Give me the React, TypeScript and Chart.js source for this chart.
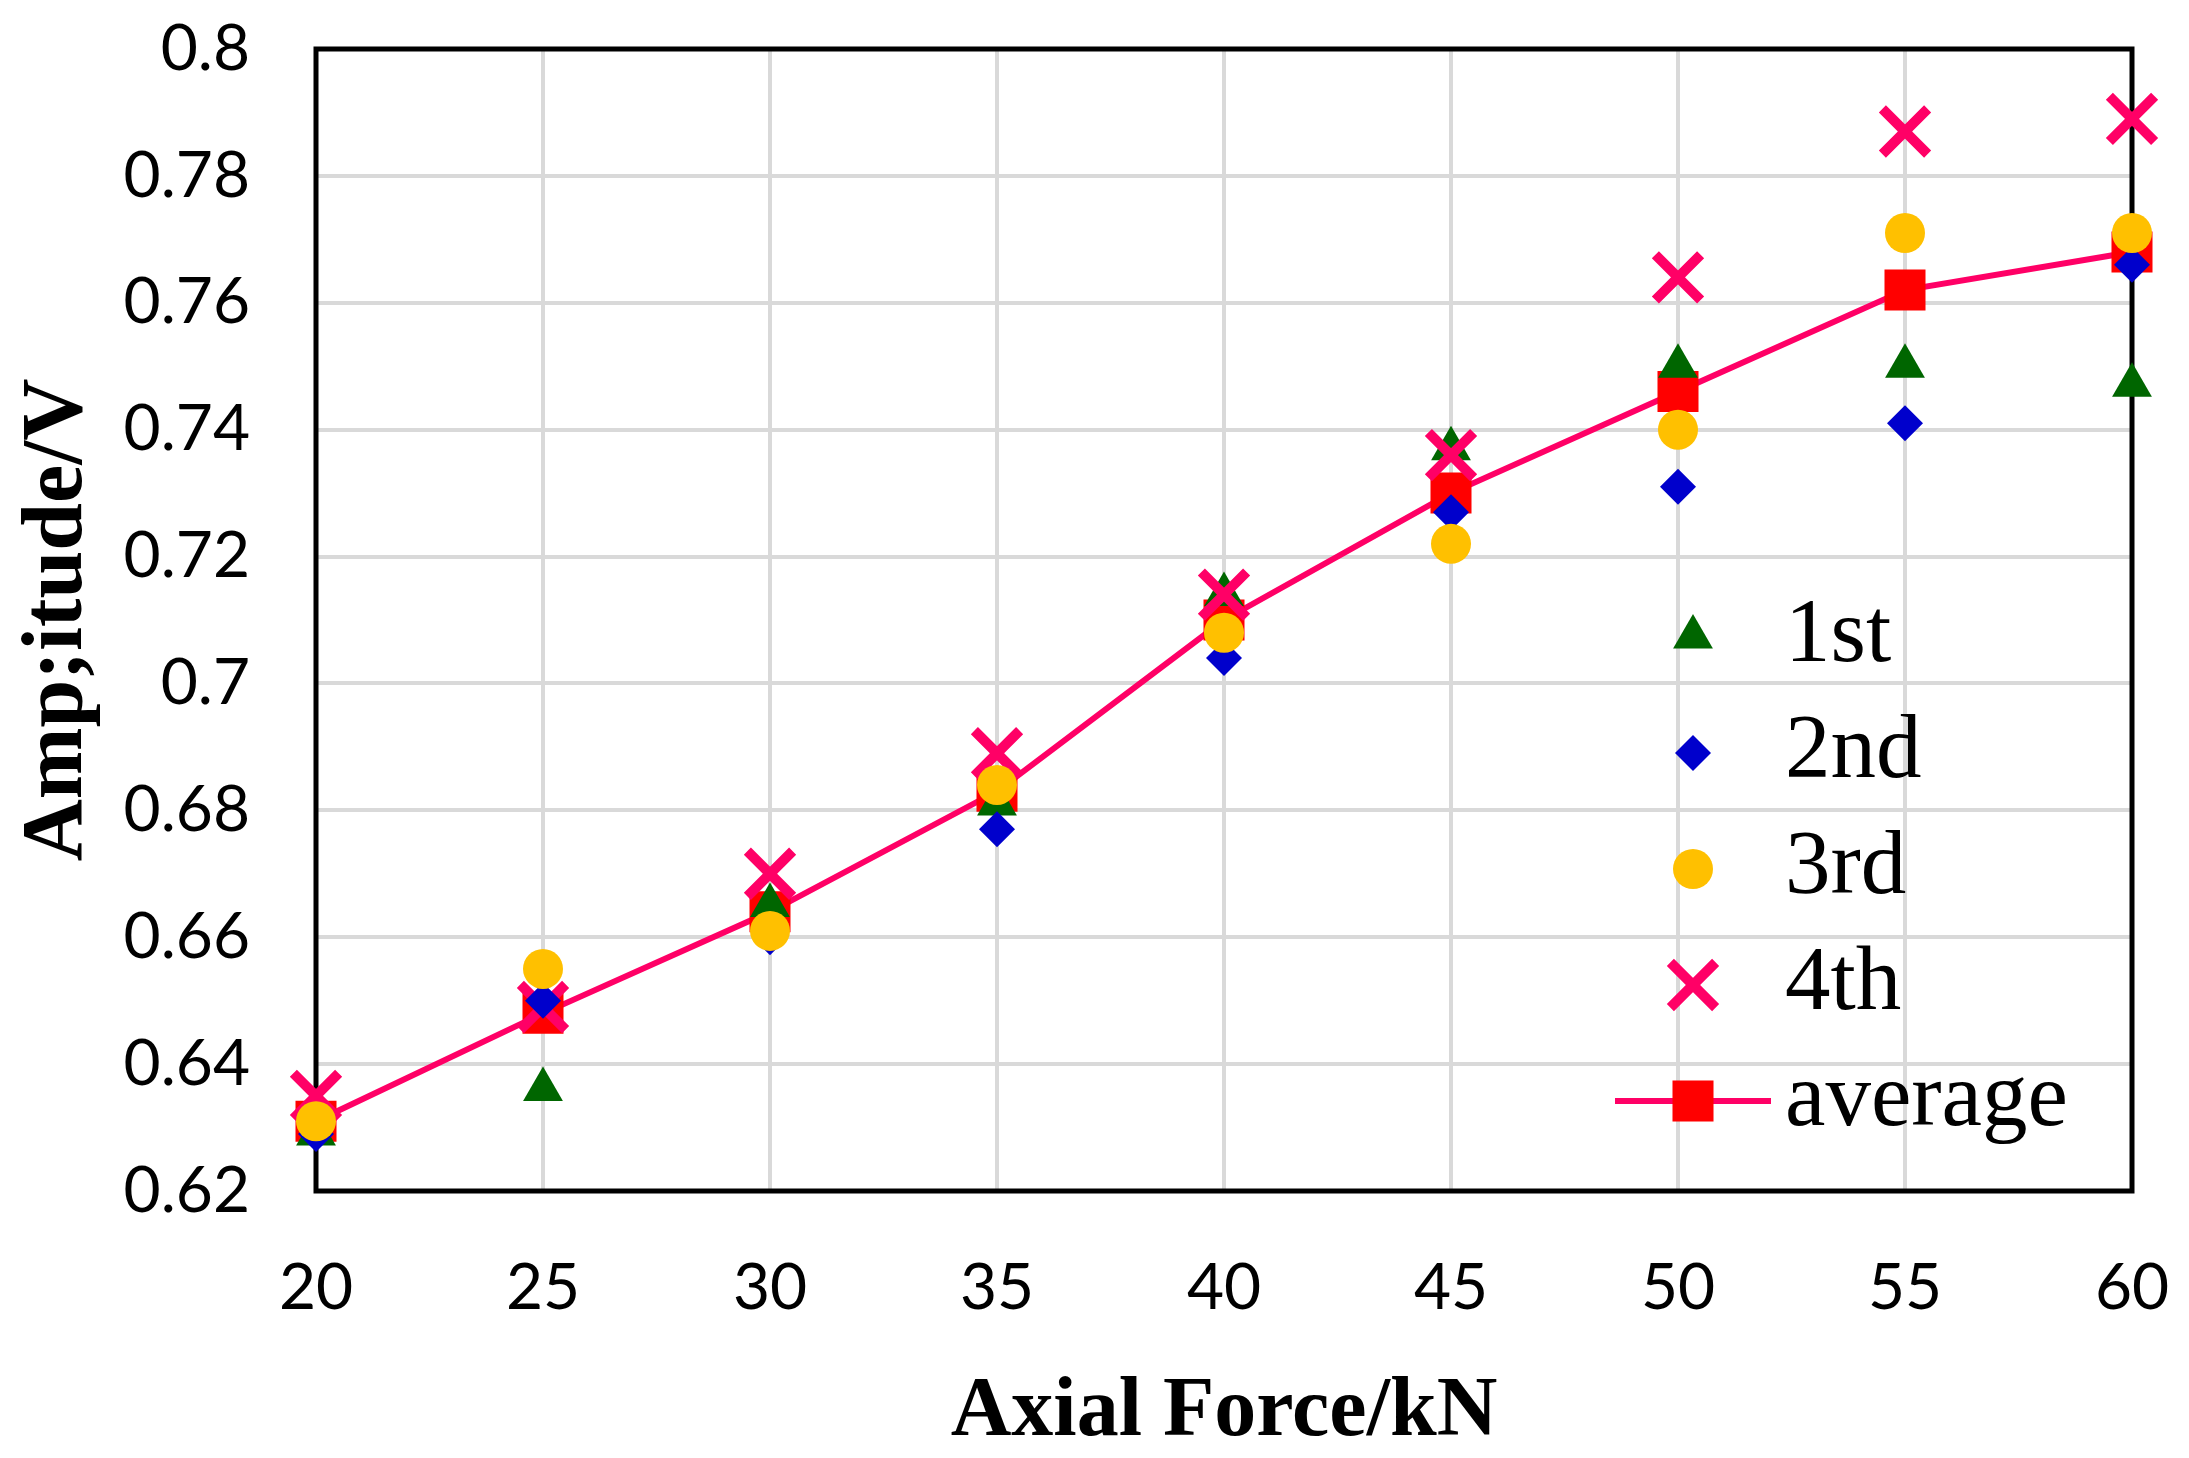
import React, { useEffect, useRef } from 'react';
import { Chart, registerables } from 'chart.js';

Chart.register(...registerables);

const forceKN = [20, 25, 30, 35, 40, 45, 50, 55, 60];
const first = [0.629, 0.636, 0.665, 0.681, 0.714, 0.737, 0.750, 0.750, 0.747];
const second = [0.629, 0.650, 0.660, 0.677, 0.704, 0.727, 0.731, 0.741, 0.766];
const third = [0.631, 0.655, 0.661, 0.684, 0.708, 0.722, 0.740, 0.771, 0.771];
const fourth = [0.635, 0.649, 0.670, 0.689, 0.714, 0.736, 0.764, 0.787, 0.789];
const average = [0.631, 0.648, 0.664, 0.683, 0.710, 0.730, 0.746, 0.762, 0.768];

const xTicks = [20, 25, 30, 35, 40, 45, 50, 55, 60];
const yTicks = [0.62, 0.64, 0.66, 0.68, 0.7, 0.72, 0.74, 0.76, 0.78, 0.8];

const seriesLabels = ['1st', '2nd', '3rd', '4th', 'average'];

const GREEN = '#006600';
const BLUE = '#0000CC';
const YELLOW = '#FFC000';
const PINK = '#FF0066';
const RED = '#FF0000';

const W = 2189;
const H = 1458;

const pts = (arr: number[]) => forceKN.map((x, i) => ({ x, y: arr[i] }));

const framePlugin = {
  id: 'frame',
  beforeDatasetsDraw(chart: any) {
    const { ctx, chartArea } = chart;
    ctx.save();
    ctx.strokeStyle = '#000';
    ctx.lineWidth = 5;
    ctx.strokeRect(chartArea.left, chartArea.top, chartArea.right - chartArea.left, chartArea.bottom - chartArea.top);
    ctx.restore();
  },
};

const legendPlugin = {
  id: 'insideLegend',
  afterDraw(chart: any) {
    const { ctx, chartArea } = chart;
    const mx = chartArea.right - 439;
    const tx = mx + 92;
    const lastRow = chartArea.bottom - 90;
    const step = 116;
    ctx.save();
    ctx.font = '91px "Liberation Serif"';
    ctx.textBaseline = 'middle';
    ctx.textAlign = 'left';
    seriesLabels.forEach((label, i) => {
      const cy = lastRow - (seriesLabels.length - 1 - i) * step;
      ctx.beginPath();
      if (i === 0) {
        const r = 23;
        ctx.fillStyle = GREEN;
        ctx.moveTo(mx, cy - r);
        ctx.lineTo(mx + r * Math.sin(Math.PI / 3), cy + r / 2);
        ctx.lineTo(mx - r * Math.sin(Math.PI / 3), cy + r / 2);
        ctx.closePath();
        ctx.fill();
      } else if (i === 1) {
        const r = 18;
        ctx.fillStyle = BLUE;
        ctx.moveTo(mx - r, cy);
        ctx.lineTo(mx, cy - r);
        ctx.lineTo(mx + r, cy);
        ctx.lineTo(mx, cy + r);
        ctx.closePath();
        ctx.fill();
      } else if (i === 2) {
        ctx.fillStyle = YELLOW;
        ctx.arc(mx, cy, 20, 0, Math.PI * 2);
        ctx.fill();
      } else if (i === 3) {
        const o = 32 * Math.SQRT1_2;
        ctx.strokeStyle = PINK;
        ctx.lineWidth = 10;
        ctx.moveTo(mx - o, cy - o);
        ctx.lineTo(mx + o, cy + o);
        ctx.moveTo(mx - o, cy + o);
        ctx.lineTo(mx + o, cy - o);
        ctx.stroke();
      } else {
        ctx.strokeStyle = PINK;
        ctx.lineWidth = 6;
        ctx.moveTo(mx - 78, cy);
        ctx.lineTo(mx + 78, cy);
        ctx.stroke();
        const s = 29 * Math.SQRT1_2;
        ctx.fillStyle = RED;
        ctx.fillRect(mx - s, cy - s, 2 * s, 2 * s);
      }
      ctx.fillStyle = '#000';
      ctx.fillText(label, tx, cy);
    });
    ctx.restore();
  },
};

const zeroPad = (s: any) => {
  s.paddingTop = 0;
  s.paddingBottom = 0;
  s.paddingLeft = 0;
  s.paddingRight = 0;
};

export default function App() {
  const canvasRef = useRef<HTMLCanvasElement | null>(null);

  useEffect(() => {
    if (!canvasRef.current) return;
    const tickFont = { family: 'Lato', size: 64 };
    const chart = new Chart(canvasRef.current, {
      type: 'scatter',
      data: {
        datasets: [
          {
            label: seriesLabels[0],
            data: pts(first),
            pointStyle: 'triangle',
            pointRadius: 23,
            pointBackgroundColor: GREEN,
            pointBorderColor: GREEN,
            pointBorderWidth: 0,
            showLine: false,
            order: 4,
            clip: false,
          },
          {
            label: seriesLabels[1],
            data: pts(second),
            pointStyle: 'rectRot',
            pointRadius: 18,
            pointBackgroundColor: BLUE,
            pointBorderColor: BLUE,
            pointBorderWidth: 0,
            showLine: false,
            order: 2,
            clip: false,
          },
          {
            label: seriesLabels[2],
            data: pts(third),
            pointStyle: 'circle',
            pointRadius: 20,
            pointBackgroundColor: YELLOW,
            pointBorderColor: YELLOW,
            pointBorderWidth: 0,
            showLine: false,
            order: 1,
            clip: false,
          },
          {
            label: seriesLabels[3],
            data: pts(fourth),
            pointStyle: 'crossRot',
            pointRadius: 32,
            pointBorderColor: PINK,
            pointBackgroundColor: PINK,
            pointBorderWidth: 10,
            showLine: false,
            order: 3,
            clip: false,
          },
          {
            label: seriesLabels[4],
            data: pts(average),
            pointStyle: 'rect',
            pointRadius: 29,
            pointBackgroundColor: RED,
            pointBorderColor: RED,
            pointBorderWidth: 0,
            showLine: true,
            borderColor: PINK,
            borderWidth: 6,
            tension: 0,
            order: 5,
            clip: false,
          },
        ] as any,
      },
      options: {
        animation: false,
        responsive: false,
        devicePixelRatio: 1,
        layout: { padding: { top: 49, right: 57, left: 0, bottom: 0 } },
        plugins: {
          legend: { display: false },
          tooltip: { enabled: false },
        },
        scales: {
          x: {
            type: 'linear',
            min: 20,
            max: 60,
            afterBuildTicks: (s: any) => {
              s.ticks = xTicks.map((v) => ({ value: v }));
            },
            afterFit: (s: any) => {
              s.height = 267;
              zeroPad(s);
            },
            grid: { color: '#D9D9D9', lineWidth: 4, drawTicks: false },
            border: { display: false },
            ticks: {
              font: tickFont,
              color: '#000',
              padding: 59,
              maxRotation: 0,
              autoSkip: false,
              callback: (v: any) => String(v),
            },
            title: {
              display: true,
              text: 'Axial Force/kN',
              color: '#000',
              font: { family: 'Liberation Serif', size: 84, weight: 'bold', lineHeight: 1 },
              padding: { top: 0, bottom: 3 },
            },
          },
          y: {
            type: 'linear',
            min: 0.62,
            max: 0.8,
            afterBuildTicks: (s: any) => {
              s.ticks = yTicks.map((v) => ({ value: v }));
            },
            afterFit: (s: any) => {
              s.width = 316;
              zeroPad(s);
            },
            grid: { color: '#D9D9D9', lineWidth: 4, drawTicks: false },
            border: { display: false },
            ticks: {
              font: tickFont,
              color: '#000',
              padding: 66,
              autoSkip: false,
              callback: (v: any) => String(parseFloat(Number(v).toFixed(2))),
            },
            title: {
              display: true,
              text: 'Amp;itude/V',
              color: '#000',
              font: { family: 'Liberation Serif', size: 86, weight: 'bold', lineHeight: 1 },
              padding: { top: 16, bottom: 0 },
            },
          },
        },
      } as any,
      plugins: [framePlugin, legendPlugin],
    });
    return () => chart.destroy();
  }, []);

  return (
    <div style={{ position: 'fixed', left: 0, top: 0, width: W, height: H, background: '#fff' }}>
      <canvas ref={canvasRef} width={W} height={H} style={{ width: W, height: H, display: 'block' }} />
    </div>
  );
}
